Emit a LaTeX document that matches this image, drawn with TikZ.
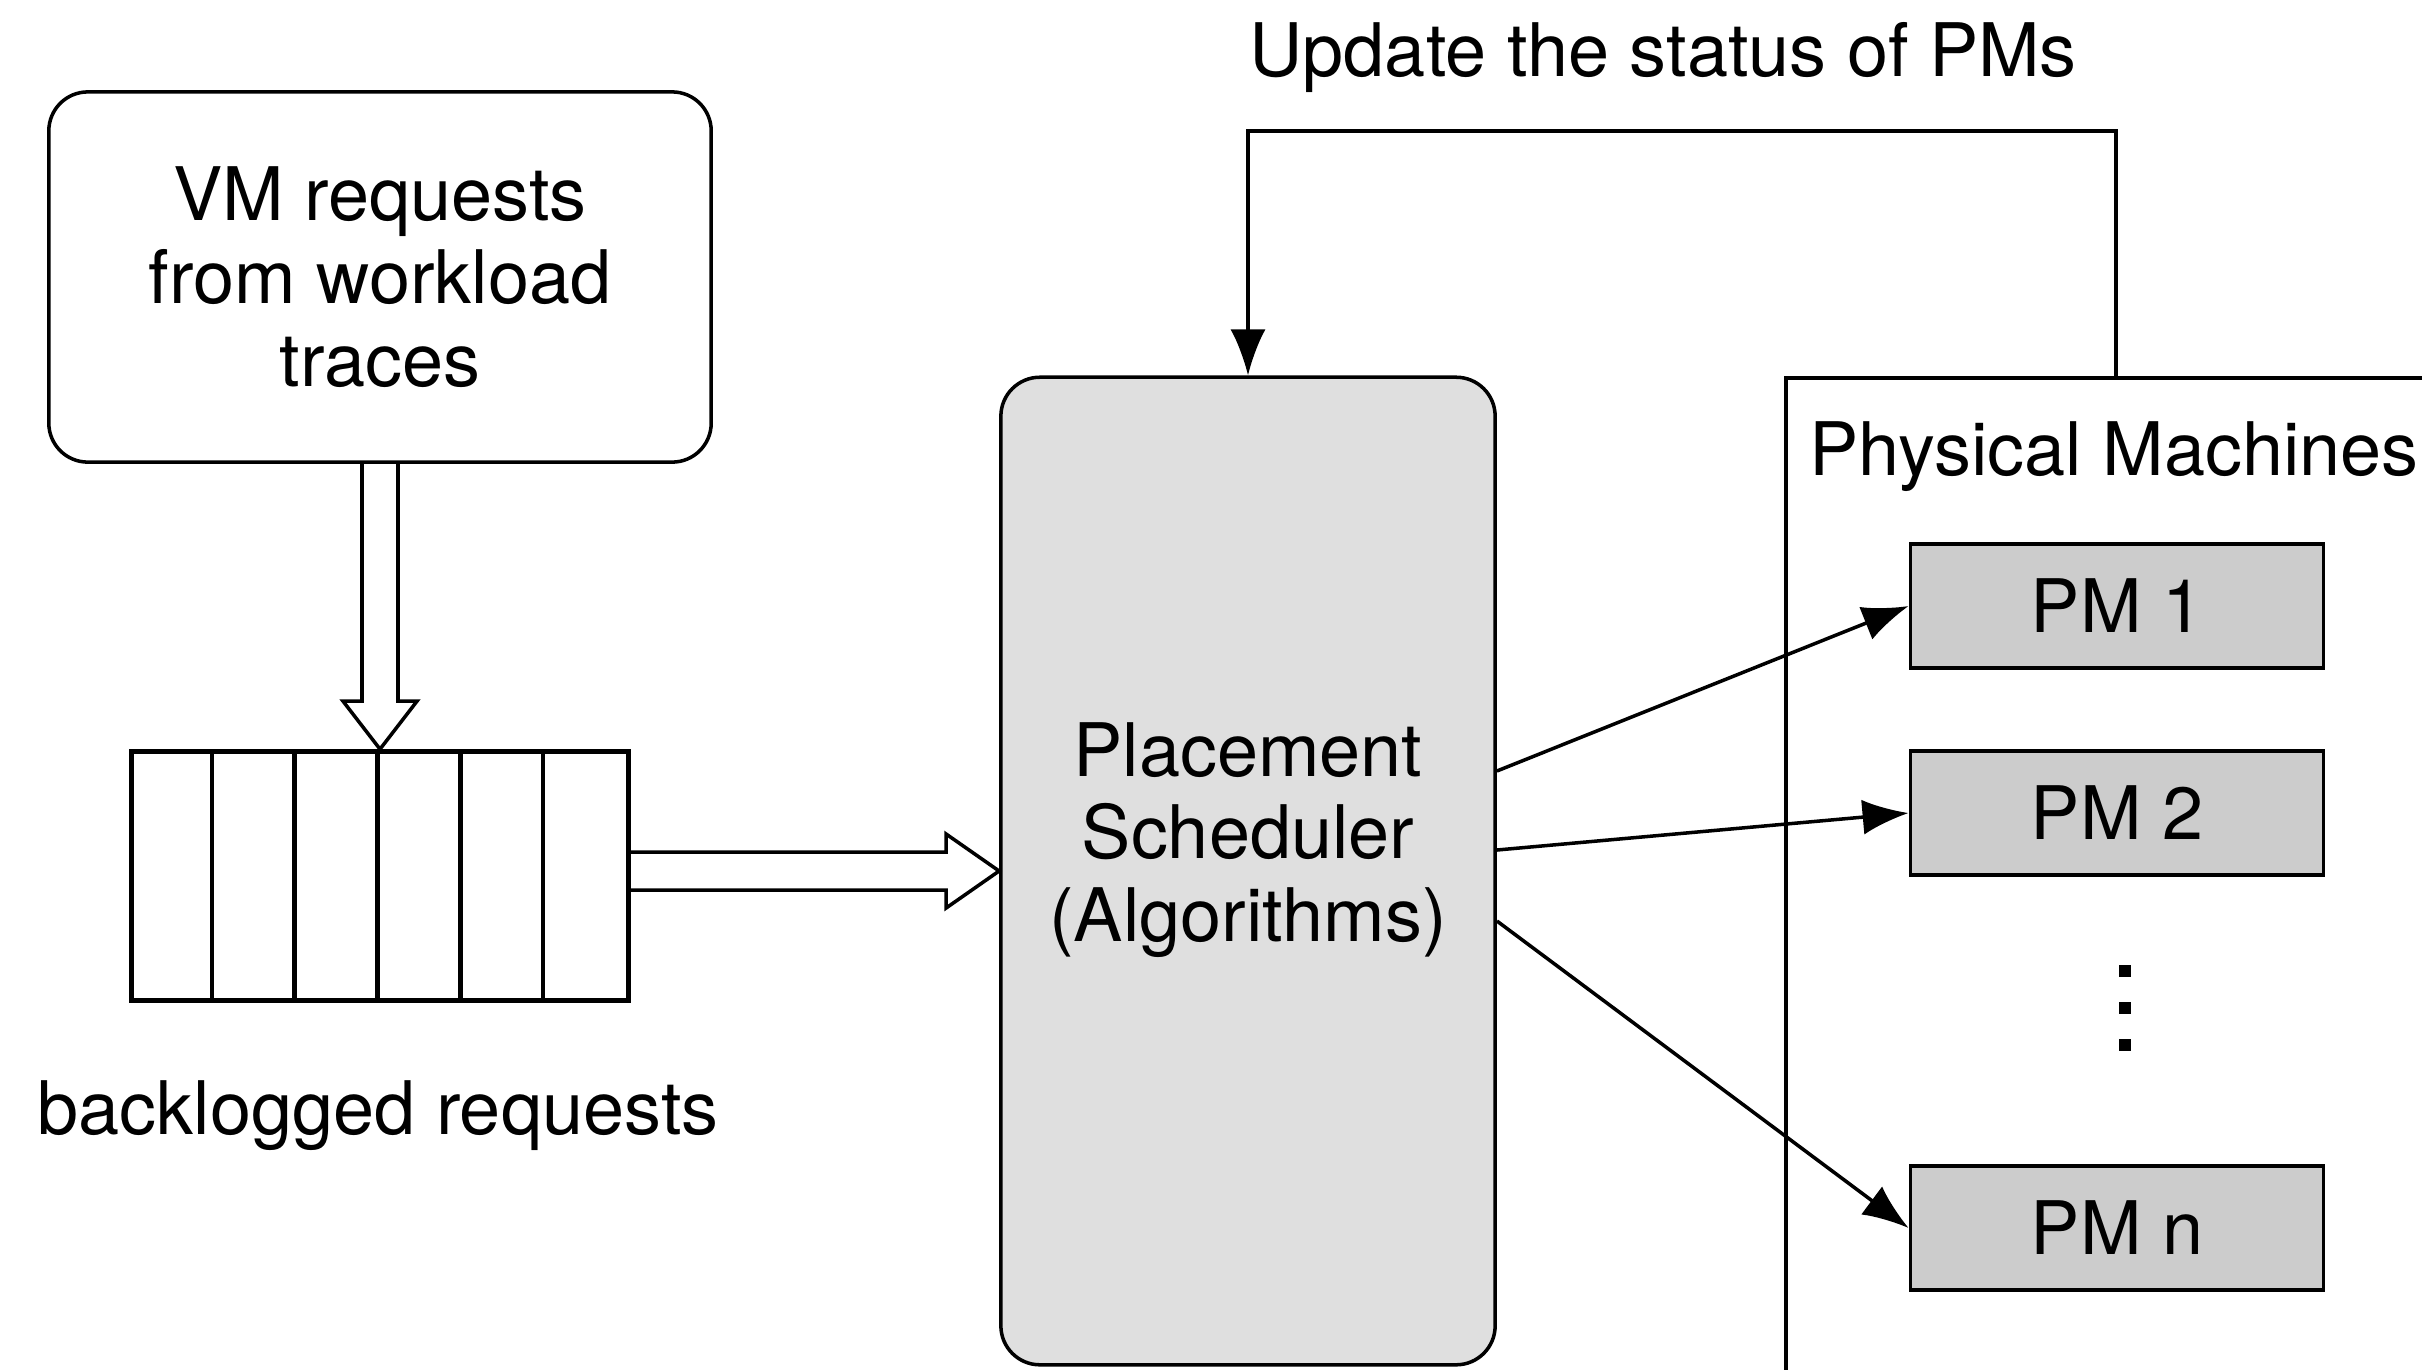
\documentclass[tikz,border=0pt]{standalone}
\usepackage{fontspec}
\setmainfont{TeX Gyre Heros}
\usetikzlibrary{arrows.meta,calc}
\tikzset{
  box/.style={draw,line width=1pt,inner sep=0pt,align=center},
  pmbox/.style={box,fill=gray!40,minimum width=4.13cm,minimum height=1.24cm},
  hollow/.style={draw,line width=1pt,line join=miter},
  arr/.style={-{Latex[length=0.46cm,width=0.35cm]},line width=1pt},
  dotsq/.style={fill=black,inner sep=0pt,minimum size=0.12cm}
}
\begin{document}
\begin{tikzpicture}[x=0.01cm,y=-0.01cm,font=\fontsize{21}{23.5}\selectfont]
  \useasboundingbox (0,0) rectangle (2422,1369);
  \clip (0,0) rectangle (2422,1369);
  % request source and queue
  \node[box,rounded corners=0.39cm,minimum width=6.62cm,minimum height=3.7cm] (trace) at (380,277) {VM requests\\from workload\\traces};
  \node[box,line width=1.3pt,minimum width=4.97cm,minimum height=2.49cm] (queue) at (380,876) {};
  \foreach \i in {1,...,5}
    \draw[line width=1.3pt] ($(queue.north west)+(\i*82.8,0)$) -- ($(queue.south west)+(\i*82.8,0)$);
  \node (qlabel) at (378,1116) {backlogged requests};
  % scheduler
  \node[box,fill=gray!25,rounded corners=0.39cm,minimum width=4.94cm,minimum height=9.87cm] (sched) at (1248,871) {};
  \node[align=center] (schedtxt) at (1248,840) {Placement\\Scheduler\\(Algorithms)};
  % physical machines
  \draw[line width=1pt] (2500,378) -- (1786,378) -- (1786,1450);
  \coordinate (pmtop) at (2116,378);
  \node[anchor=west] (pmtitle) at (1797,457) {Physical Machines};
  \node[pmbox] (pm1) at (2117,606) {PM 1};
  \node[pmbox] (pm2) at (2117,813) {PM 2};
  \node[pmbox] (pmn) at (2117,1228) {PM n};
  \foreach \y in {971,1008,1045}
    \node[dotsq] at (2125,\y) {};
  \node (upd) at (1663,58) {Update the status of PMs};
  % hollow arrows
  \draw[hollow] ($(trace.south)+(-18,0)$) -- ($(queue.north)+(-18,-48)$) -- ($(queue.north)+(-37,-48)$)
    -- (queue.north) -- ($(queue.north)+(37,-48)$) -- ($(queue.north)+(18,-48)$) -- ($(trace.south)+(18,0)$);
  \draw[hollow] ($(queue.east |- sched.west)+(0,-19)$) -- ($(sched.west)+(-53,-19)$) -- ($(sched.west)+(-53,-37)$)
    -- (sched.west) -- ($(sched.west)+(-53,37)$) -- ($(sched.west)+(-53,19)$) -- ($(queue.east |- sched.west)+(0,19)$);
  % placement arrows
  \draw[arr] ($(sched.east)+(0,-100)$) -- (pm1.west);
  \draw[arr] ($(sched.east)+(0,-21)$) -- (pm2.west);
  \draw[arr] ($(sched.east)+(0,50)$) -- (pmn.west);
  % feedback
  \coordinate (turn) at (1248,131);
  \draw[arr] (pmtop) |- (turn) -- (sched.north);
\end{tikzpicture}
\end{document}
